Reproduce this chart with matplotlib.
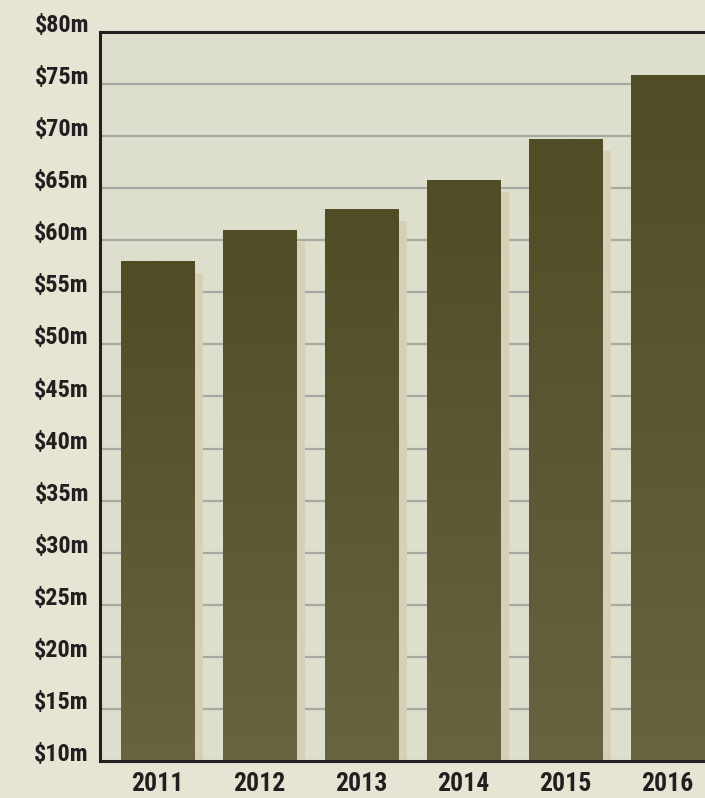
import matplotlib
matplotlib.use("Agg")
import matplotlib.pyplot as plt
import numpy as np
import os
from matplotlib import font_manager
from matplotlib.font_manager import FontProperties
from matplotlib.colors import LinearSegmentedColormap

years = ["2011", "2012", "2013", "2014", "2015", "2016"]
values = [58.0, 61.0, 63.0, 65.8, 69.7, 75.9]
shadow_drop = 1.15
y_ticks = [10, 15, 20, 25, 30, 35, 40, 45, 50, 55, 60, 65, 70, 75, 80]
y_labels = ["$%dm" % v for v in y_ticks]

fnames = [f.fname for f in font_manager.fontManager.ttflist]
pref = ["RobotoCondensed-Bold.ttf", "BarlowCondensed-Bold.ttf",
        "DejaVuSansCondensed-Bold.ttf"]
font_file = None
for p in pref:
    for f in fnames:
        if os.path.basename(f) == p:
            font_file = f
            break
    if font_file:
        break

def fp(size):
    if font_file:
        return FontProperties(fname=font_file, size=size)
    return FontProperties(family="Liberation Sans", weight="bold", size=size)

fig = plt.figure(figsize=(7.05, 7.98), dpi=100)
fig.patch.set_facecolor("#e6e4d2")
ax = fig.add_axes([100/705, 37/798, 618.5/705, 729/798])
ax.set_facecolor("#dedecd")

x = np.arange(len(years))
w = 0.716

for yv in y_ticks[1:-1]:
    ax.axhline(yv, color="#a8a8a2", lw=1.6, zorder=1)

ax.bar(x + 0.088, np.array(values) - shadow_drop, width=w, bottom=0,
       color="#d5d0b6", zorder=2)
bars = ax.bar(x, values, width=w, color="#5a5632", zorder=3)

grad = np.linspace(0, 1, 256).reshape(-1, 1)
cmap = LinearSegmentedColormap.from_list("g", ["#686340", "#4f4c26"])
for b in bars:
    x0, x1 = b.get_x(), b.get_x() + b.get_width()
    im = ax.imshow(grad, extent=[x0, x1, 10, b.get_height()], origin="lower",
                   cmap=cmap, aspect="auto", zorder=4)
    im.set_clip_path(b)
ax.set_xlim(-0.5637, 5.5)
ax.set_ylim(10, 80)

for s in ["left", "top", "bottom"]:
    ax.spines[s].set_color("#231f20")
    ax.spines[s].set_linewidth(2.2)
ax.spines["right"].set_visible(False)
ax.spines["bottom"].set_zorder(6)

ax.set_yticks(y_ticks)
ax.set_yticklabels(y_labels, fontproperties=fp(17.5), color="#231f20")
for lab in ax.get_yticklabels():
    lab.set_verticalalignment("baseline")
ax.set_xticks(x)
ax.set_xticklabels(years, fontproperties=fp(18.5), color="#231f20")
ax.tick_params(axis="both", length=0)
ax.tick_params(axis="y", pad=8)
ax.tick_params(axis="x", pad=8)

fig.savefig("out.png", dpi=100, facecolor=fig.get_facecolor())
